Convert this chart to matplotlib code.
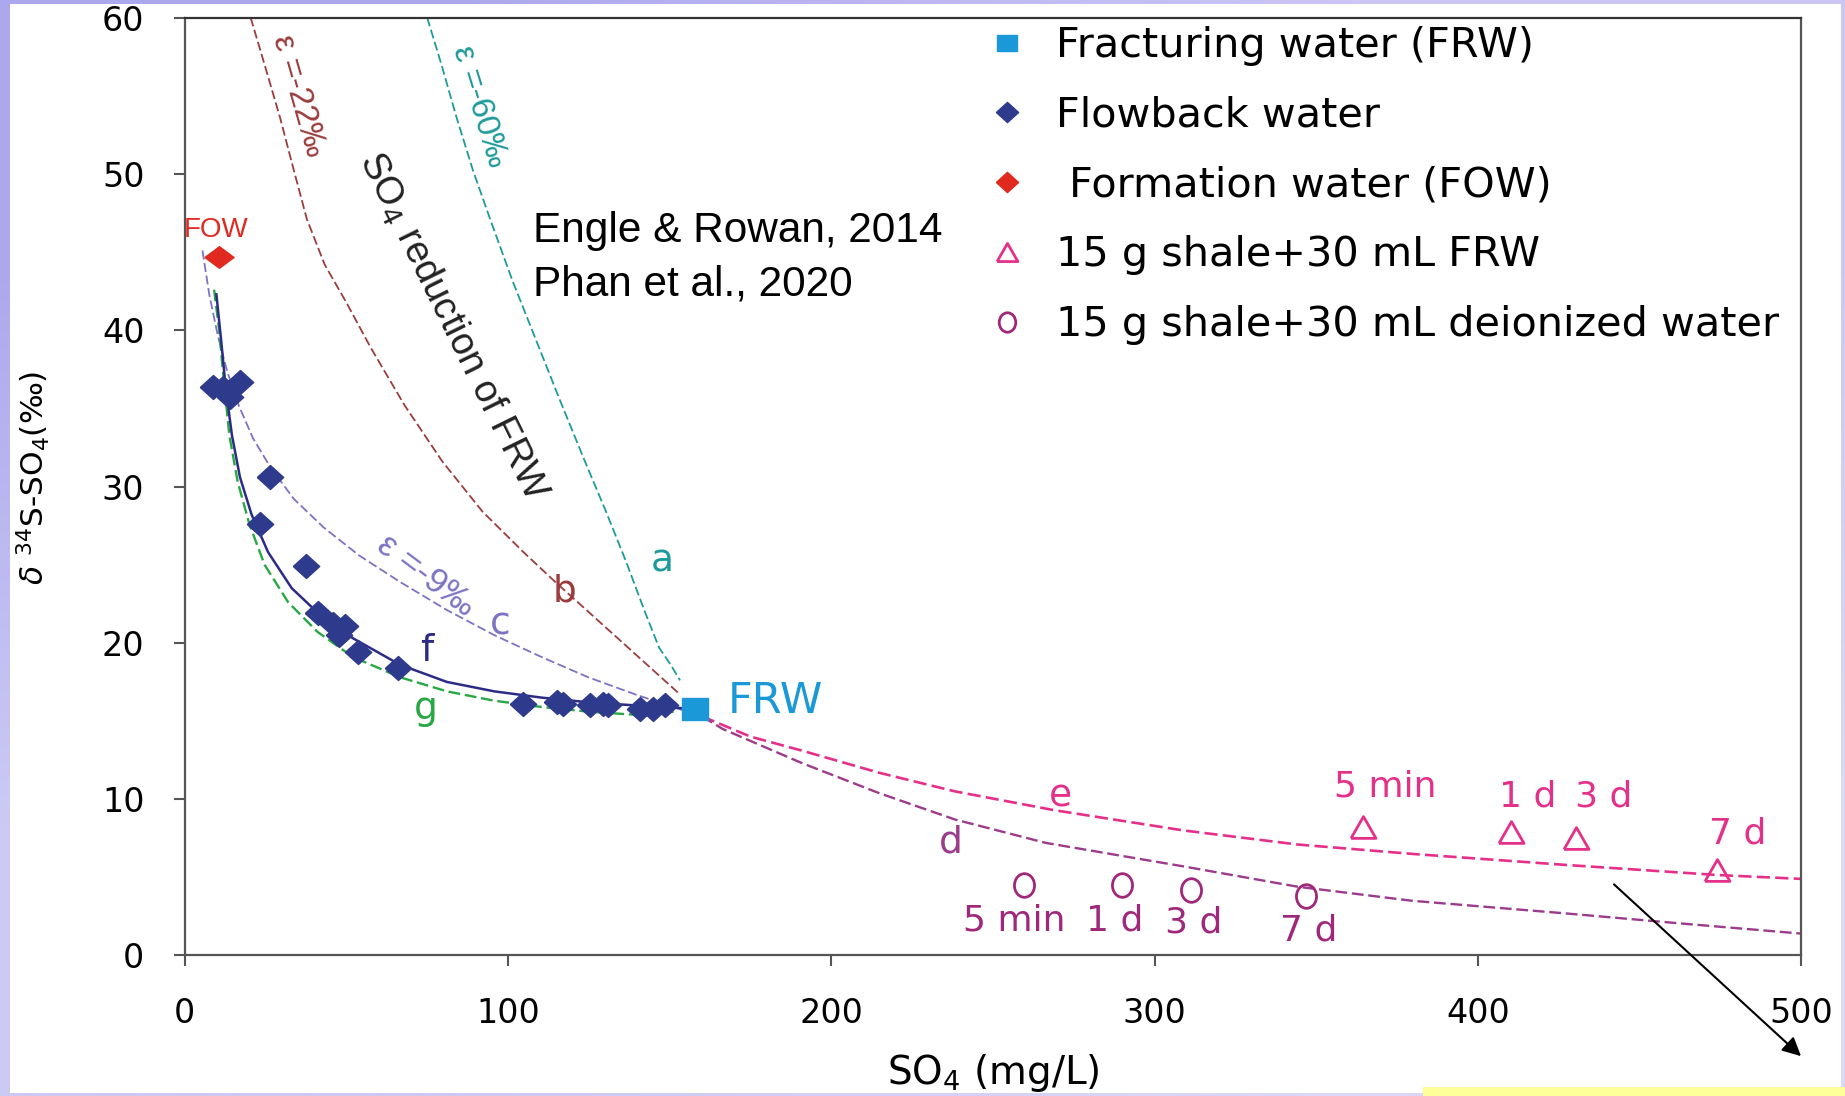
import matplotlib
matplotlib.use("Agg")
import matplotlib.pyplot as plt
from matplotlib.lines import Line2D
from matplotlib.patches import Rectangle
from matplotlib.path import Path
from matplotlib.transforms import Affine2D
import numpy as np

# ---- data ----
frw_x, frw_y = [157.8], [15.8]
fow_x, fow_y = [10.7], [44.7]

flow_x = [8.9, 11.9, 14.0, 17.1, 26.4, 23.3, 37.5, 41.1, 45.9, 49.5, 47.7, 53.5, 65.9,
          104.7, 115.0, 117.0, 125.3, 129.5, 131.0, 140.8, 144.9, 148.5]
flow_y = [36.4, 36.3, 35.7, 36.7, 30.6, 27.6, 24.9, 21.9, 21.2, 21.1, 20.5, 19.4, 18.4,
          16.1, 16.2, 16.1, 16.0, 16.1, 16.0, 15.8, 15.8, 16.0]

tri_x = [364.3, 410.3, 430.3, 473.9]
tri_y = [8.25, 7.9, 7.5, 5.5]
tri_labels = ["5 min", "1 d", "3 d", "7 d"]
tri_label_x = [371.2, 415.2, 438.9, 480.3]
tri_label_y = [10.8, 10.2, 10.2, 7.8]

circ_x = [259.6, 290.0, 311.3, 346.9]
circ_y = [4.5, 4.5, 4.2, 3.8]
circ_labels = ["5 min", "1 d", "3 d", "7 d"]
circ_label_x = [256.6, 287.5, 311.9, 347.5]
circ_label_y = [2.26, 2.26, 2.1, 1.58]

# model curves
a_x = [75.0, 79.4, 84.1, 89.2, 95.0, 101.5, 108.8, 116.1, 123.4, 130.3, 136.5, 142.3, 146.7, 150.3, 153.2]
a_y = [60.0, 57.0, 53.6, 50.2, 46.8, 43.1, 39.3, 35.5, 31.8, 28.4, 25.2, 22.0, 19.7, 18.6, 17.6]
b_x = [20.4, 24.7, 29.5, 33.8, 37.8, 43.3, 50.2, 57.5, 68.0, 79.7, 92.1, 104.8, 114.6, 133.9, 153.2]
b_y = [60.0, 57.0, 53.6, 50.2, 47.1, 44.2, 41.7, 38.9, 35.2, 31.6, 28.4, 25.8, 23.9, 20.3, 16.7]
c_x = [5.5, 7.6, 10.2, 13.1, 16.7, 21.1, 26.6, 33.8, 42.9, 53.9, 66.6, 81.1, 95.7, 110.3, 124.8, 139.4, 153.9]
c_y = [45.1, 42.3, 39.7, 37.4, 35.2, 33.1, 31.2, 29.2, 27.4, 25.6, 23.9, 22.1, 20.5, 19.1, 17.8, 16.7, 15.7]
f_x = [9.8, 11.3, 12.7, 14.6, 17.1, 20.7, 25.8, 33.1, 41.8, 52.0, 66.6, 81.1, 95.7, 110.3, 124.8, 139.4, 155.8]
f_y = [42.3, 39.3, 36.3, 33.3, 30.6, 28.2, 25.8, 23.5, 21.8, 20.3, 18.6, 17.5, 16.9, 16.5, 16.2, 16.0, 15.8]
g_x = [9.1, 10.6, 12.0, 13.8, 16.4, 20.0, 24.7, 32.0, 41.1, 52.0, 66.6, 81.1, 95.7, 110.3, 124.8, 139.4, 152.1]
g_y = [42.6, 40.1, 37.0, 33.3, 30.3, 27.6, 25.0, 22.6, 20.7, 19.1, 17.8, 16.9, 16.3, 15.9, 15.6, 15.4, 15.6]
e_x = [160.0, 175.0, 191.0, 214.6, 238.2, 268.8, 308.9, 344.2, 379.6, 426.7, 473.9, 500.0]
e_y = [15.3, 14.0, 13.1, 11.7, 10.5, 9.3, 8.0, 7.1, 6.5, 5.8, 5.15, 4.9]
d_x = [160.0, 166.3, 191.0, 214.6, 238.2, 266.4, 308.9, 344.2, 379.6, 426.7, 462.1, 500.0]
d_y = [15.3, 14.5, 12.3, 10.4, 8.7, 7.2, 5.7, 4.4, 3.5, 2.7, 2.06, 1.4]

legend_labels = ["Fracturing water (FRW)", "Flowback water", " Formation water (FOW)",
                 "15 g shale+30 mL FRW", "15 g shale+30 mL deionized water"]

# colours
c_frw = "#1a98d8"
c_fow = "#e02a20"
c_flow = "#2e3a8c"
c_a = "#1f9a9a"
c_b = "#9c3c3c"
c_c = "#7b73c4"
c_f = "#2c2c86"
c_g = "#27a844"
c_e = "#e5308a"
c_d = "#9c3a8c"
c_circ = "#a0287a"

plt.rcParams['font.family'] = ['DejaVu Sans']
lab_font = ['Liberation Sans', 'DejaVu Sans']

diamond = [(-1.1, 0), (0, 1), (1.1, 0), (0, -1), (-1.1, 0)]
fow_diamond = [(-1.35, 0), (0, 1), (1.35, 0), (0, -1), (-1.35, 0)]
square = [(-1.15, -1), (1.15, -1), (1.15, 1), (-1.15, 1), (-1.15, -1)]
triangle = [(-1.15, -1), (0, 1), (1.15, -1), (-1.15, -1)]
ellipse = Path.unit_circle().transformed(Affine2D().scale(0.85, 1.0))

fig = plt.figure(figsize=(18.45, 10.96), dpi=100)

# lavender slide border
bg = fig.add_axes([0, 0, 1, 1], zorder=-5)
bg.axis('off')
grad = np.array([[[0.68, 0.66, 0.93], [0.80, 0.78, 0.96]],
                 [[0.80, 0.79, 0.96], [0.86, 0.85, 0.97]]])
bg.imshow(grad, extent=(0, 1, 0, 1), aspect='auto', interpolation='bilinear')
bg.add_patch(Rectangle((10 / 1845, 3 / 1096), (1841 - 10) / 1845, (1092 - 3) / 1096,
                       facecolor='white', edgecolor='none'))
bg.set_xlim(0, 1)
bg.set_ylim(0, 1)

ax = fig.add_axes([0.1001, 0.1282, 0.8763, 0.8557])
ax.set_facecolor('none')

ls_dash = (0, (5, 2))
ax.plot(a_x, a_y, color=c_a, lw=1.3, ls=ls_dash)
ax.plot(b_x, b_y, color=c_b, lw=1.3, ls=ls_dash)
ax.plot(c_x, c_y, color=c_c, lw=1.3, ls=ls_dash)
ax.plot(g_x, g_y, color=c_g, lw=1.7, ls=ls_dash)
ax.plot(f_x, f_y, color=c_f, lw=1.8, ls='-')
ax.plot(e_x, e_y, color=c_e, lw=1.9, ls=ls_dash)
ax.plot(d_x, d_y, color=c_d, lw=1.7, ls=ls_dash)

ax.plot(flow_x, flow_y, ls='none', marker=diamond, ms=19, color=c_flow, zorder=5)
ax.plot(fow_x, fow_y, ls='none', marker=fow_diamond, ms=21, color=c_fow, zorder=5)
ax.plot(frw_x, frw_y, ls='none', marker=square, ms=19, color=c_frw, zorder=6)
ax.plot(tri_x, tri_y, ls='none', marker=triangle, ms=18, mfc='none', mec=c_e, mew=2, zorder=5)
ax.plot(circ_x, circ_y, ls='none', marker=ellipse, ms=17, mfc='none', mec=c_circ, mew=2, zorder=5)

for lx, ly, t in zip(tri_label_x, tri_label_y, tri_labels):
    ax.text(lx, ly, t, color=c_e, fontsize=26, ha='center', va='center')
for lx, ly, t in zip(circ_label_x, circ_label_y, circ_labels):
    ax.text(lx, ly, t, color=c_circ, fontsize=26, ha='center', va='center')

# curve letters
for t, x, y, col in [("a", 147.7, 25.2, c_a), ("b", 117.5, 23.3, c_b), ("c", 97.5, 21.2, c_c),
                     ("f", 75.0, 19.5, c_f), ("g", 74.6, 15.8, c_g), ("e", 270.7, 10.2, c_e),
                     ("d", 236.9, 7.2, c_d)]:
    ax.text(x, y, t, color=col, fontsize=27, ha='center', va='center')

ax.text(9.8, 46.4, "FOW", color=c_fow, fontsize=20, family=lab_font, ha='center', va='center')
ax.text(168.0, 16.3, "FRW", color=c_frw, fontsize=31, ha='left', va='center')

ax.text(35.2, 55.0, "ε =-22‰", color=c_b, fontsize=24, family=lab_font, rotation=-74,
        rotation_mode='anchor', ha='center', va='center')
ax.text(91.3, 54.3, "ε =-60‰", color=c_a, fontsize=24, family=lab_font, rotation=-73,
        rotation_mode='anchor', ha='center', va='center')
ax.text(74.5, 24.3, "ε =-9‰", color=c_c, fontsize=25.5, family=lab_font, rotation=-37,
        rotation_mode='anchor', ha='center', va='center')
ax.text(83.0, 40.2, "SO$_4$ reduction of FRW", color='#222222', fontsize=27.5, family=lab_font,
        rotation=-63.8, rotation_mode='anchor', ha='center', va='center')
ax.text(107.7, 44.65, "Engle & Rowan, 2014\nPhan et al., 2020", color='black', fontsize=30.5,
        family=lab_font, ha='left', va='center', linespacing=1.42)

ax.annotate('', xy=(500.5, -6.56), xytext=(441.4, 4.67),
            arrowprops=dict(arrowstyle='-|>', color='black', lw=1.5, mutation_scale=28),
            annotation_clip=False)

handles = [
    Line2D([], [], ls='none', marker=square, ms=14, color=c_frw),
    Line2D([], [], ls='none', marker=diamond, ms=16, color=c_flow),
    Line2D([], [], ls='none', marker=diamond, ms=16, color=c_fow),
    Line2D([], [], ls='none', marker=triangle, ms=15, mfc='none', mec=c_e, mew=2),
    Line2D([], [], ls='none', marker=ellipse, ms=14, mfc='none', mec=c_circ, mew=2),
]
ax.legend(handles, legend_labels, loc='upper left', bbox_to_anchor=(0.4959, 0.991),
          frameon=False, fontsize=29.8, handlelength=1.0, handletextpad=0.67,
          labelspacing=0.72, borderpad=0, borderaxespad=0)

ax.set_xlim(0, 500)
ax.set_ylim(0, 60)
ax.set_xticks(range(0, 501, 100))
ax.set_yticks(range(0, 61, 10))
for s in ax.spines.values():
    s.set_color('#555555')
    s.set_linewidth(1.6)
ax.spines['top'].set_color('#333333')
ax.tick_params(direction='out', length=8, width=1.5, color='#555555', labelsize=24)
ax.tick_params(axis='x', pad=22)
ax.tick_params(axis='y', pad=21)

ax.set_xlabel("SO$_4$ (mg/L)", fontsize=28)
ax.xaxis.set_label_coords(0.5, -0.103)
ax.set_ylabel("$\\delta\\ ^{34}$S-SO$_4$(‰)", fontsize=22.5)
ax.yaxis.set_label_coords(-0.082, 0.509)

fig.add_artist(Rectangle((1423 / 1845, 0), (1845 - 1423) / 1845, 9 / 1096,
                         transform=fig.transFigure, facecolor='#ffff99', edgecolor='none',
                         zorder=10))

fig.savefig("out.png", dpi=100)
